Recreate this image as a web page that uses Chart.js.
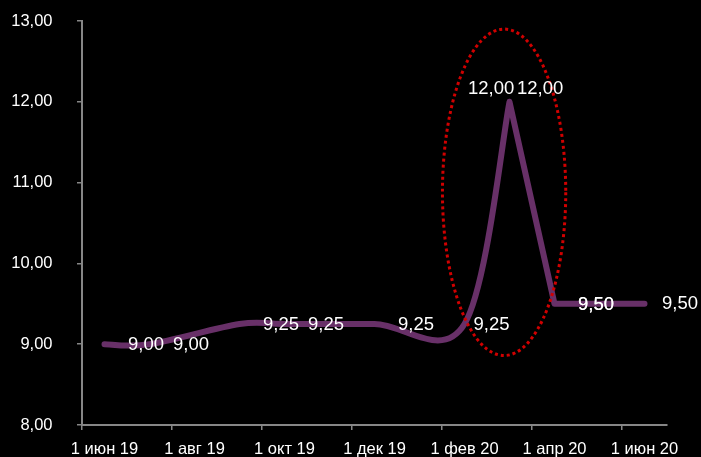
<!DOCTYPE html>
<html>
<head>
<meta charset="utf-8">
<script src="https://cdn.jsdelivr.net/npm/chart.js@4.4.1/dist/chart.umd.min.js"></script>
<style>
  html, body { margin: 0; padding: 0; background: #000; }
  canvas { display: block; }
</style>
</head>
<body>
<canvas id="rateChart" width="701" height="457"></canvas>
<script>
// Base rate decisions, one entry per meeting (month of the decision)
const decisionMonths = ['2019-06', '2019-07', '2019-09', '2019-10', '2019-12', '2020-02',
                        '2020-03', '2020-03', '2020-04', '2020-04', '2020-06'];
const baseRate = [9.00, 9.00, 9.25, 9.25, 9.25, 9.25, 12.00, 12.00, 9.50, 9.50, 9.50];

// Axis labels: one every two months, starting June 2019
const monthTickLabels = ['1 июн 19', '1 авг 19', '1 окт 19', '1 дек 19', '1 фев 20', '1 апр 20', '1 июн 20'];
const rateTicks = [8, 9, 10, 11, 12, 13];

// Month slots on the axis: 0 = June 2019 ... 12 = June 2020
const firstYear = 2019, firstMonth = 6, monthCount = 13;
const toSlot = s => { const [y, m] = s.split('-').map(Number); return (y - firstYear) * 12 + (m - firstMonth); };

// Highlighted spike (centre and radii in axis units)
const spikeCentre = { month: 8.88, rate: 10.88 };
const spikeRadius = { month: 1.37, rate: 2.02 };

// Where each value label sits relative to its point (px)
const labelShift = [[23.5, 0.5], [23.5, 0.5], [23.5, 0.5], [23.5, 0.5], [23.5, 0.5], [9, 0.5],
                    [-41.5, -12.5], [7.5, -12.5], [23.5, 1], [23.5, 1], [17.5, 0.5]];

const FONT = "'Liberation Sans', Arial, sans-serif";
const AXIS_GREY = '#868686';
const LINE_PURPLE = 'rgb(104, 48, 104)';

const fmt = v => v.toFixed(2).replace('.', ',');

// Spreadsheet-style smoothing: handles are (next - previous) / 6
const smoothLine = {
  id: 'smoothLine',
  beforeDatasetDraw(chart, args) {
    const line = args.meta.dataset;
    const pts = args.meta.data;
    const n = pts.length;
    for (let i = 0; i < n - 1; i++) {
      const p0 = pts[Math.max(i - 1, 0)], p1 = pts[i], p2 = pts[i + 1], p3 = pts[Math.min(i + 2, n - 1)];
      const d12 = Math.hypot(p2.x - p1.x, p2.y - p1.y);
      const h1x = (p2.x - p0.x) / 6, h1y = (p2.y - p0.y) / 6;
      const h2x = (p3.x - p1.x) / 6, h2y = (p3.y - p1.y) / 6;
      const limit = (hx, hy) => { const l = Math.hypot(hx, hy); return l > d12 / 2 ? (l ? (d12 / 2) / l : 0) : 1; };
      const s1 = limit(h1x, h1y), s2 = limit(h2x, h2y);
      p1.cp2x = p1.x + h1x * s1; p1.cp2y = p1.y + h1y * s1;
      p2.cp1x = p2.x - h2x * s2; p2.cp1y = p2.y - h2y * s2;
    }
    line._pointsUpdated = true;
    line._path = undefined;
  }
};

// Dotted ellipse around the spike, then the value labels
const overlays = {
  id: 'overlays',
  afterDatasetsDraw(chart) {
    const { ctx, scales: { x, y } } = chart;
    const cx = x.getPixelForValue(spikeCentre.month);
    const cy = y.getPixelForValue(spikeCentre.rate);
    const rx = x.getPixelForValue(spikeCentre.month + spikeRadius.month) - cx;
    const ry = cy - y.getPixelForValue(spikeCentre.rate + spikeRadius.rate);
    ctx.save();
    ctx.strokeStyle = '#d00000';
    ctx.lineWidth = 3;
    ctx.setLineDash([3, 3]);
    ctx.beginPath();
    ctx.ellipse(cx, cy, rx, ry, 0, 0, Math.PI * 2);
    ctx.stroke();
    ctx.restore();

    const pts = chart.getDatasetMeta(0).data;
    ctx.save();
    ctx.font = '18.5px ' + FONT;
    ctx.fillStyle = '#ffffff';
    ctx.textAlign = 'left';
    ctx.textBaseline = 'middle';
    pts.forEach((p, i) => {
      const [dx, dy] = labelShift[i];
      ctx.fillText(fmt(baseRate[i]), p.x + dx, p.y + dy);
    });
    ctx.restore();
  }
};

new Chart(document.getElementById('rateChart'), {
  type: 'line',
  data: {
    datasets: [{
      data: decisionMonths.map((m, i) => ({ x: toSlot(m), y: baseRate[i] })),
      borderColor: LINE_PURPLE,
      borderWidth: 6,
      borderCapStyle: 'round',
      borderJoinStyle: 'round',
      tension: 0.4,
      pointRadius: 0,
      pointHoverRadius: 0,
      fill: false
    }]
  },
  options: {
    responsive: false,
    animation: false,
    events: [],
    layout: { padding: { top: 21, right: 34, left: 0, bottom: 0 } },
    plugins: { legend: { display: false }, tooltip: { enabled: false } },
    scales: {
      x: {
        type: 'linear',
        min: -0.5,
        max: monthCount - 0.5,
        afterBuildTicks: s => { s.ticks = monthTickLabels.map((_, k) => ({ value: 2 * k - 0.5 })); },
        afterFit: s => { s.height = 32; s.paddingLeft = 0; s.paddingRight = 0; },
        grid: { drawOnChartArea: false, drawTicks: true, tickLength: 5, color: AXIS_GREY, lineWidth: 1.5 },
        border: { color: AXIS_GREY, width: 2 },
        ticks: {
          autoSkip: false, maxRotation: 0, minRotation: 0,
          labelOffset: 22.5, padding: 10,
          color: '#ffffff',
          font: { family: FONT, size: 16.5 },
          callback: v => monthTickLabels[Math.round((v + 0.5) / 2)]
        }
      },
      y: {
        min: rateTicks[0],
        max: rateTicks[rateTicks.length - 1],
        afterBuildTicks: s => { s.ticks = rateTicks.map(v => ({ value: v })); },
        afterFit: s => { s.width = 82; s.paddingTop = 0; s.paddingBottom = 0; },
        grid: { drawOnChartArea: false, drawTicks: true, tickLength: 5, color: AXIS_GREY, lineWidth: 1.5 },
        border: { color: AXIS_GREY, width: 2 },
        ticks: {
          padding: 24.5,
          color: '#ffffff',
          font: { family: FONT, size: 16.5 },
          callback: v => fmt(v)
        }
      }
    }
  },
  plugins: [smoothLine, overlays]
});
</script>
</body>
</html>
